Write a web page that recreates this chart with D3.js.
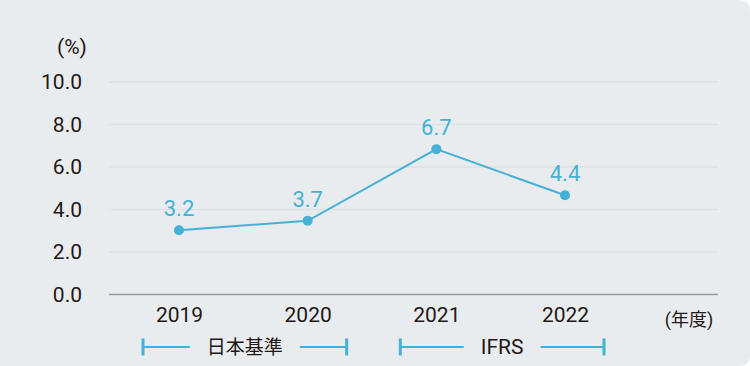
<!DOCTYPE html>
<html>
<head>
<meta charset="utf-8">
<script src="https://cdn.jsdelivr.net/npm/d3@7"></script>
<style>
  html, body { margin: 0; padding: 0; background: #fff; }
  svg { display: block; }
</style>
</head>
<body>
<script>
const W = 750;
const H = 366;

// data
const years = ["2019", "2020", "2021", "2022"];
const plotted = [3.02, 3.47, 6.84, 4.67];      // where the dots sit
const valueLabels = ["3.2", "3.7", "6.7", "4.4"]; // what the labels say
const yTicks = [0, 2, 4, 6, 8, 10];
const standards = [
  { name: "日本基準", from: "2019", to: "2020", size: 19 },
  { name: "IFRS", from: "2021", to: "2022", size: 21 }
];

const BLUE = "#46b1d6";
const TEXT = "#231815";
const FONT = "Roboto, 'Noto Sans CJK JP', sans-serif";

const plot = { left: 109, right: 718, top: 82, bottom: 294.5 };

const svg = d3.select("body")
  .append("svg")
  .attr("width", W)
  .attr("height", H);

// card background, right corners rounded
const r = 11;
svg.append("path")
  .attr("d", `M0,0 H${W - r} Q${W},0 ${W},${r} V${H - r} Q${W},${H} ${W - r},${H} H0 Z`)
  .attr("fill", "#e9ecef");

const x = d3.scalePoint()
  .domain(years)
  .range([179, 565]);

const y = d3.scaleLinear()
  .domain([0, 10])
  .range([plot.bottom, plot.top]);

// grid lines
svg.append("g")
  .selectAll("line")
  .data(yTicks.filter(d => d > 0))
  .join("line")
  .attr("x1", plot.left)
  .attr("x2", plot.right)
  .attr("y1", d => y(d))
  .attr("y2", d => y(d))
  .attr("stroke", "#dde1e5")
  .attr("stroke-width", 1.5);

// baseline
svg.append("line")
  .attr("x1", plot.left)
  .attr("x2", plot.right)
  .attr("y1", y(0))
  .attr("y2", y(0))
  .attr("stroke", "#9a9a9a")
  .attr("stroke-width", 1.5);

// y axis labels
const yAxis = svg.append("g")
  .attr("transform", `translate(${plot.left - 27},0)`)
  .call(d3.axisLeft(y).tickValues(yTicks).tickFormat(d3.format(".1f")).tickSize(0).tickPadding(0));
yAxis.select(".domain").remove();
yAxis.selectAll("text")
  .attr("font-family", FONT)
  .attr("font-size", 21)
  .attr("fill", TEXT);

svg.append("text")
  .attr("x", 72)
  .attr("y", 54)
  .attr("text-anchor", "middle")
  .attr("font-family", FONT)
  .attr("font-size", 21)
  .attr("fill", TEXT)
  .text("(%)");

// x axis labels
const xAxis = svg.append("g")
  .attr("transform", `translate(0,${plot.bottom})`)
  .call(d3.axisBottom(x).tickSize(0).tickPadding(13));
xAxis.select(".domain").remove();
xAxis.selectAll("text")
  .attr("font-family", FONT)
  .attr("font-size", 21)
  .attr("fill", TEXT);

svg.append("text")
  .attr("x", 689)
  .attr("y", 326)
  .attr("text-anchor", "middle")
  .attr("font-family", FONT)
  .attr("font-size", 18)
  .attr("fill", TEXT)
  .text("(年度)");

// line + dots
const pts = years.map((yr, i) => ({ yr, v: plotted[i], label: valueLabels[i] }));

svg.append("path")
  .datum(pts)
  .attr("fill", "none")
  .attr("stroke", BLUE)
  .attr("stroke-width", 2)
  .attr("d", d3.line().x(d => x(d.yr)).y(d => y(d.v)));

svg.append("g")
  .selectAll("circle")
  .data(pts)
  .join("circle")
  .attr("cx", d => x(d.yr))
  .attr("cy", d => y(d.v))
  .attr("r", 5)
  .attr("fill", BLUE);

svg.append("g")
  .selectAll("text")
  .data(pts)
  .join("text")
  .attr("x", d => x(d.yr))
  .attr("y", d => y(d.v) - 14)
  .attr("text-anchor", "middle")
  .attr("font-family", FONT)
  .attr("font-size", 22)
  .attr("fill", BLUE)
  .text(d => d.label);

// accounting standard brackets
const legendY = 347;
const lg = svg.append("g")
  .selectAll("g")
  .data(standards)
  .join("g");

lg.each(function (d) {
  const g = d3.select(this);
  const x0 = x(d.from) - 36;
  const x1 = x(d.to) + 39;
  const mid = (x0 + x1) / 2;
  const txt = g.append("text")
    .attr("x", mid)
    .attr("y", legendY + 7)
    .attr("text-anchor", "middle")
    .attr("font-family", FONT)
    .attr("font-size", d.size)
    .attr("fill", TEXT)
    .text(d.name);
  const tw = txt.node().getComputedTextLength();
  const gap = 17;
  g.append("line")
    .attr("x1", x0).attr("x2", mid - tw / 2 - gap)
    .attr("y1", legendY).attr("y2", legendY)
    .attr("stroke", BLUE).attr("stroke-width", 2);
  g.append("line")
    .attr("x1", mid + tw / 2 + gap).attr("x2", x1)
    .attr("y1", legendY).attr("y2", legendY)
    .attr("stroke", BLUE).attr("stroke-width", 2);
  [x0, x1].forEach(xx => {
    g.append("line")
      .attr("x1", xx).attr("x2", xx)
      .attr("y1", legendY - 8.5).attr("y2", legendY + 8.5)
      .attr("stroke", BLUE).attr("stroke-width", 3);
  });
});
</script>
</body>
</html>
